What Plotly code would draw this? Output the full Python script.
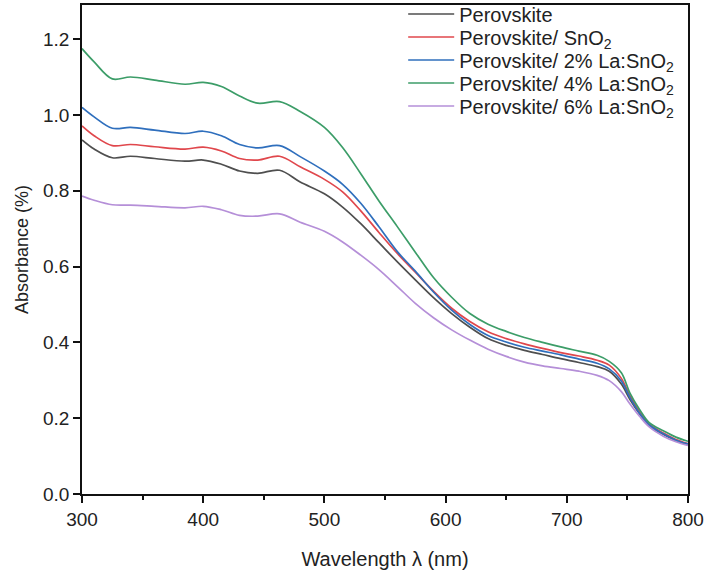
import plotly.graph_objects as go

wavelength = [300, 310, 325, 340, 360, 385, 400, 415, 430, 445, 463, 480, 500, 515, 530, 545,
              560, 575, 590, 605, 620, 635, 650, 665, 680, 695, 710, 725, 735, 745, 752, 760,
              768, 780, 790, 800]

perovskite = [0.934, 0.910, 0.887, 0.891, 0.885, 0.878, 0.881, 0.870, 0.852, 0.846, 0.854, 0.823,
              0.792, 0.757, 0.713, 0.663, 0.613, 0.565, 0.518, 0.476, 0.440, 0.410, 0.392, 0.379,
              0.368, 0.357, 0.347, 0.336, 0.324, 0.290, 0.250, 0.212, 0.180, 0.157, 0.141, 0.130]

sno2 = [0.971, 0.945, 0.919, 0.922, 0.916, 0.910, 0.915, 0.905, 0.885, 0.881, 0.891, 0.863,
        0.830, 0.797, 0.747, 0.690, 0.635, 0.585, 0.535, 0.490, 0.455, 0.428, 0.410, 0.396,
        0.384, 0.373, 0.364, 0.353, 0.340, 0.305, 0.260, 0.217, 0.184, 0.160, 0.144, 0.133]

la2 = [1.020, 0.995, 0.965, 0.967, 0.960, 0.951, 0.957, 0.945, 0.922, 0.913, 0.919, 0.890,
       0.852, 0.817, 0.767, 0.705, 0.640, 0.588, 0.533, 0.485, 0.447, 0.418, 0.401, 0.387,
       0.377, 0.367, 0.356, 0.345, 0.330, 0.298, 0.255, 0.213, 0.182, 0.158, 0.142, 0.132]

la4 = [1.175, 1.140, 1.095, 1.100, 1.092, 1.081, 1.086, 1.075, 1.050, 1.031, 1.035, 1.009,
       0.967, 0.914, 0.845, 0.773, 0.706, 0.638, 0.571, 0.519, 0.476, 0.448, 0.429, 0.413,
       0.400, 0.388, 0.377, 0.366, 0.350, 0.320, 0.267, 0.223, 0.188, 0.166, 0.150, 0.139]

la6 = [0.786, 0.775, 0.763, 0.762, 0.759, 0.755, 0.759, 0.750, 0.735, 0.733, 0.739, 0.717,
       0.693, 0.665, 0.630, 0.592, 0.548, 0.503, 0.465, 0.433, 0.406, 0.382, 0.363, 0.348,
       0.338, 0.331, 0.324, 0.313, 0.299, 0.270, 0.238, 0.205, 0.177, 0.152, 0.138, 0.128]

names = ["Perovskite", "Perovskite/ SnO<sub>2</sub>", "Perovskite/ 2% La:SnO<sub>2</sub>",
         "Perovskite/ 4% La:SnO<sub>2</sub>", "Perovskite/ 6% La:SnO<sub>2</sub>"]
series = [perovskite, sno2, la2, la4, la6]
colors = ["#4f4f4f", "#e0474c", "#2f6fbd", "#3c9d68", "#b58fd8"]

font = "Liberation Sans, Arial, sans-serif"
plot_top, plot_bottom = 5, 494
row_centres = [14, 37, 60, 83, 106]   # legend row anchor centres in pixels from top

fig = go.Figure()
legend_layout = {}
for i, (n, s, c) in enumerate(zip(names, series, colors)):
    key = "legend" if i == 0 else f"legend{i + 1}"
    fig.add_trace(go.Scatter(x=wavelength, y=s, mode="lines", name=n, legend=key,
                             line=dict(color=c, width=1.7, shape="spline", smoothing=1.0)))
    ypos = 1 - (row_centres[i] - plot_top) / (plot_bottom - plot_top)
    legend_layout[key] = dict(x=0.530, y=ypos, xanchor="left", yanchor="middle",
                              bgcolor="rgba(0,0,0,0)", font=dict(size=20, color="#222",
                                                                 family=font),
                              itemwidth=46, borderwidth=0)

fig.update_layout(
    width=707, height=575,
    margin=dict(l=82, r=19, t=plot_top, b=575 - plot_bottom, autoexpand=False),
    paper_bgcolor="white", plot_bgcolor="white",
    font=dict(family=font, size=19, color="#222"),
    showlegend=True,
    xaxis=dict(range=[300, 800], tickvals=[300, 400, 500, 600, 700, 800],
               ticks="outside", ticklen=7, tickwidth=1.5, tickcolor="#111",
               showline=True, linecolor="#111", linewidth=1.5, mirror=True,
               showgrid=False, zeroline=False,
               minor=dict(tickvals=[350, 450, 550, 650, 750], ticks="outside",
                          ticklen=4, tickwidth=1.5, tickcolor="#111"),
               title=dict(text="Wavelength λ (nm)", font=dict(size=20), standoff=23),
               tickfont=dict(size=19)),
    yaxis=dict(range=[0, 1.29], tickvals=[0, 0.2, 0.4, 0.6, 0.8, 1.0, 1.2], tickformat=".1f",
               ticks="outside", ticklen=7, tickwidth=1.5, tickcolor="#111",
               showline=True, linecolor="#111", linewidth=1.5, mirror=True,
               showgrid=False, zeroline=False,
               title=dict(text="Absorbance (%)", font=dict(size=18), standoff=10),
               tickfont=dict(size=19)),
    **legend_layout,
)

fig.write_html("out.html")
